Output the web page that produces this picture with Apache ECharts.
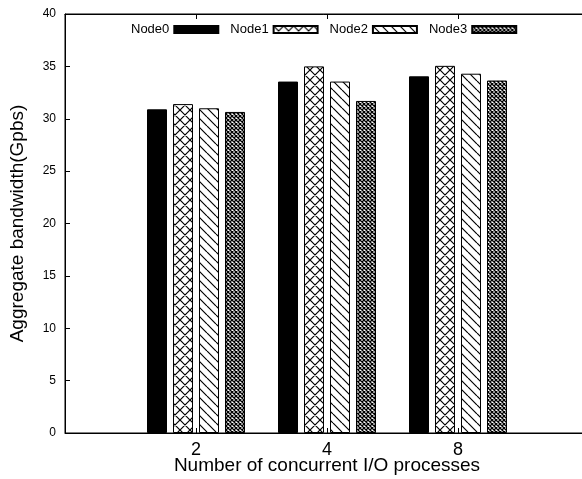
<!DOCTYPE html>
<html>
<head>
<meta charset="utf-8">
<script src="https://cdn.jsdelivr.net/npm/echarts@6/dist/echarts.min.js"></script>
<style>
  html, body { margin: 0; padding: 0; background: #fff; }
  #chart { width: 582px; height: 479px; }
</style>
</head>
<body>
<div id="chart"></div>
<script>
// Process counts (padded with empty slots so the groups sit at 1/4, 2/4, 3/4 of the axis)
const categories = ['', '2', '4', '8', ''];
const seriesNames = ['Node0', 'Node1', 'Node2', 'Node3'];
const node0 = [null, 30.9, 33.55, 34.05, null];
const node1 = [null, 31.4, 35.0, 35.05, null];
const node2 = [null, 31.0, 33.55, 34.3, null];
const node3 = [null, 30.65, 31.7, 33.65, null];
const yTicks = { min: 0, max: 40, interval: 5 };

// Small hatch tiles used as bar fills
function tile(size, draw) {
  const c = document.createElement('canvas');
  c.width = size; c.height = size;
  const g = c.getContext('2d');
  draw(g, size);
  return { image: c, repeat: 'repeat' };
}
function crossHatch(size, lw) {
  return tile(size, (g, s) => {
    g.fillStyle = '#fff'; g.fillRect(0, 0, s, s);
    g.strokeStyle = '#000'; g.lineWidth = lw;
    g.beginPath();
    for (const o of [-s, 0, s]) {
      g.moveTo(o, 0); g.lineTo(o + s, s);
      g.moveTo(o + s, 0); g.lineTo(o, s);
    }
    g.stroke();
  });
}
function backHatch(size, lw) {
  return tile(size, (g, s) => {
    g.fillStyle = '#fff'; g.fillRect(0, 0, s, s);
    g.strokeStyle = '#000'; g.lineWidth = lw;
    g.beginPath();
    for (const o of [-s, 0, s]) { g.moveTo(o, 0); g.lineTo(o + s, s); }
    g.stroke();
  });
}

const fills = ['#000', crossHatch(10, 1.2), backHatch(9, 1.2), crossHatch(4, 1.3)];
const values = [node0, node1, node2, node3];

const chart = echarts.init(document.getElementById('chart'), null, { renderer: 'canvas' });
const font = 'Liberation Sans, Arial, Helvetica, sans-serif';

chart.setOption({
  animation: false,
  backgroundColor: '#fff',
  textStyle: { fontFamily: font, color: '#000' },
  grid: {
    left: 65, top: 14, width: 524, height: 419,
    outerBoundsMode: 'none',
    containLabel: false,
    show: true, borderColor: '#000', borderWidth: 1, backgroundColor: 'transparent'
  },
  legend: {
    left: 126, top: 18,
    align: 'right',
    itemWidth: 44, itemHeight: 7, itemGap: 11,
    icon: 'rect',
    textStyle: { fontFamily: font, fontSize: 13, color: '#000' },
    data: seriesNames
  },
  xAxis: [{
    type: 'category',
    data: categories,
    boundaryGap: false,
    position: 'bottom',
    axisLine: { show: true, lineStyle: { color: '#000', width: 1 } },
    axisTick: { show: true, inside: true, length: 5, interval: (i, v) => v !== '', lineStyle: { color: '#000' } },
    axisLabel: { fontFamily: font, fontSize: 18, color: '#000', margin: 8, interval: 0 },
    splitLine: { show: false },
    name: 'Number of concurrent I/O processes',
    nameLocation: 'middle',
    nameGap: 23,
    nameMoveOverlap: false,
    nameTextStyle: { fontFamily: font, fontSize: 19, color: '#000' }
  }, {
    type: 'category',
    data: categories,
    boundaryGap: false,
    position: 'top',
    axisLine: { show: true, lineStyle: { color: '#000', width: 1 } },
    axisTick: { show: true, inside: true, length: 5, interval: (i, v) => v !== '', lineStyle: { color: '#000' } },
    axisLabel: { show: false },
    splitLine: { show: false }
  }],
  yAxis: {
    type: 'value',
    min: yTicks.min, max: yTicks.max, interval: yTicks.interval,
    axisLine: { show: true, lineStyle: { color: '#000', width: 1 } },
    axisTick: { show: true, inside: true, length: 5, lineStyle: { color: '#000' } },
    axisLabel: { fontFamily: font, fontSize: 12, color: '#000', margin: 9 },
    splitLine: { show: false },
    name: 'Aggregate bandwidth(Gpbs)',
    nameLocation: 'middle',
    nameGap: 38,
    nameMoveOverlap: false,
    nameTextStyle: { fontFamily: font, fontSize: 19, color: '#000' }
  },
  series: seriesNames.map((name, k) => ({
    name,
    type: 'bar',
    xAxisIndex: 0,
    data: values[k],
    barWidth: 20,
    barGap: '30%',
    itemStyle: { color: fills[k], borderColor: '#000', borderWidth: 1 },
    emphasis: { disabled: true }
  }))
});
</script>
</body>
</html>
